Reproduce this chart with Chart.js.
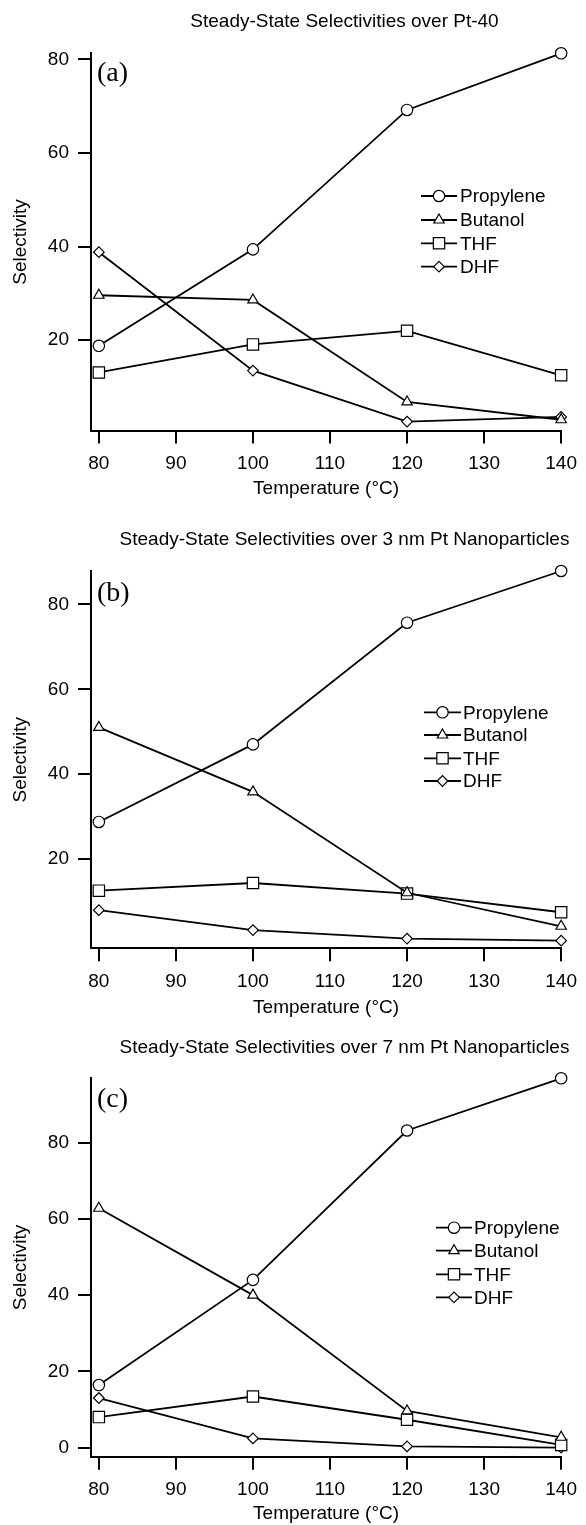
<!DOCTYPE html>
<html>
<head>
<meta charset="utf-8">
<script src="https://cdn.jsdelivr.net/npm/chart.js@4.4.1/dist/chart.umd.min.js"></script>
<style>
  html, body { margin: 0; padding: 0; background: #fff; }
  canvas { display: block; }
</style>
</head>
<body>
<canvas id="chartA" width="586" height="510"></canvas>
<canvas id="chartB" width="586" height="515"></canvas>
<canvas id="chartC" width="586" height="500"></canvas>
<script>
const temperatures = [80, 100, 120, 140];
const xTicks = [80, 90, 100, 110, 120, 130, 140];
const seriesNames = ['Propylene', 'Butanol', 'THF', 'DHF'];

// (a) Pt-40
const propyleneA = [18.8, 39.4, 69.2, 81.3];
const butanolA = [29.6, 28.6, 6.8, 3.0];
const thfA = [13.1, 19.1, 22.0, 12.5];
const dhfA = [38.8, 13.5, 2.6, 3.6];
const yTicksA = [20, 40, 60, 80];

// (b) 3 nm Pt nanoparticles
const propyleneB = [28.7, 47.0, 75.7, 87.9];
const butanolB = [51.0, 35.8, 12.0, 4.1];
const thfB = [12.5, 14.3, 11.8, 7.4];
const dhfB = [7.9, 3.2, 1.2, 0.7];
const yTicksB = [20, 40, 60, 80];

// (c) 7 nm Pt nanoparticles
const propyleneC = [16.4, 44.0, 83.2, 96.9];
const butanolC = [62.8, 40.0, 9.6, 2.7];
const thfC = [8.0, 13.4, 7.3, 0.7];
const dhfC = [13.0, 2.4, 0.3, 0.0];
const yTicksC = [0, 20, 40, 60, 80];

const FONT = "'Liberation Sans', Arial, sans-serif";
const markers = [
  { style: 'circle', radius: 5.7 },
  { style: 'triangle', radius: 6 },
  { style: 'rect', radius: 8 },
  { style: 'rectRot', radius: 5.3 }
];

// panel title, (a)/(b)/(c) tag and the inline legend
const panelText = {
  id: 'panelText',
  afterDraw(chart, args, opts) {
    const ctx = chart.ctx;
    ctx.save();
    ctx.fillStyle = '#000';
    ctx.textBaseline = 'middle';
    ctx.font = '19px ' + FONT;
    ctx.textAlign = 'center';
    ctx.fillText(opts.title, 344.5, opts.titleY);
    ctx.font = "28px 'Liberation Serif', 'Times New Roman', serif";
    ctx.textAlign = 'left';
    ctx.fillText(opts.tag, 97, opts.tagY);

    ctx.font = '19px ' + FONT;
    chart.data.datasets.forEach((ds, i) => {
      const y = opts.legendY[i];
      ctx.strokeStyle = '#000';
      ctx.lineWidth = 1.8;
      ctx.beginPath();
      ctx.moveTo(opts.legendX[0], y);
      ctx.lineTo(opts.legendX[1], y);
      ctx.stroke();
      ctx.fillStyle = '#fff';
      ctx.lineWidth = 1.2;
      Chart.helpers.drawPoint(ctx, {
        pointStyle: ds.pointStyle, radius: ds.pointRadius, rotation: 0, borderWidth: 1.2
      }, (opts.legendX[0] + opts.legendX[1]) / 2, y);
      ctx.fillStyle = '#000';
      ctx.fillText(ds.label, opts.legendX[2], y + 1);
    });
    ctx.restore();
  }
};

function makeChart(id, series, yMin, yMax, yTicks, p) {
  const datasets = series.map((vals, i) => ({
    label: seriesNames[i],
    data: temperatures.map((t, k) => ({ x: t, y: vals[k] })),
    borderColor: '#000',
    backgroundColor: '#fff',
    borderWidth: 1.8,
    pointStyle: markers[i].style,
    pointRadius: markers[i].radius,
    pointBorderWidth: 1.2,
    pointBackgroundColor: '#fff',
    pointBorderColor: '#000',
    tension: 0,
    clip: false
  }));

  return new Chart(document.getElementById(id), {
    type: 'line',
    data: { datasets },
    plugins: [panelText],
    options: {
      responsive: false,
      animation: false,
      layout: { padding: { top: p.top, right: 17.5, left: 0, bottom: 0 } },
      scales: {
        x: {
          type: 'linear',
          min: 78.98,
          max: 140,
          afterBuildTicks: s => { s.ticks = xTicks.map(v => ({ value: v })); },
          afterFit: s => { s.height = p.xHeight; },
          grid: { drawOnChartArea: false, drawTicks: true, tickLength: 13, lineWidth: 2, color: '#000' },
          border: { display: true, color: '#000', width: 2 },
          ticks: { color: '#000', padding: 9, maxRotation: 0, font: { family: FONT, size: 19 } },
          title: {
            display: true, text: 'Temperature (°C)', color: '#000',
            padding: { top: 0, bottom: p.xTitlePad }, font: { family: FONT, size: 19 }
          }
        },
        y: {
          type: 'linear',
          min: yMin,
          max: yMax,
          afterBuildTicks: s => { s.ticks = yTicks.map(v => ({ value: v })); },
          afterFit: s => { s.width = 91; },
          grid: { drawOnChartArea: false, drawTicks: true, tickLength: 13, lineWidth: 2, color: '#000' },
          border: { display: true, color: '#000', width: 2 },
          ticks: { color: '#000', padding: 9, font: { family: FONT, size: 19 } },
          title: {
            display: true, text: 'Selectivity', color: '#000',
            padding: { top: 9, bottom: 0 }, font: { family: FONT, size: 19 }
          }
        }
      },
      plugins: {
        legend: { display: false },
        tooltip: { enabled: false },
        title: { display: false },
        panelText: {
          title: p.title, titleY: p.titleY, tag: p.tag, tagY: p.tagY,
          legendY: p.legendY, legendX: p.legendX
        }
      }
    }
  });
}

makeChart('chartA', [propyleneA, butanolA, thfA, dhfA], 0.7, 81.3, yTicksA, {
  top: 53.3, xHeight: 79.5, xTitlePad: 10.3,
  title: 'Steady-State Selectivities over Pt-40', titleY: 21.7,
  tag: '(a)', tagY: 74,
  legendY: [196, 220, 243.3, 266.7], legendX: [421, 457, 460]
});

makeChart('chartB', [propyleneB, butanolB, thfB, dhfB], -1.1, 87.9, yTicksB, {
  top: 61, xHeight: 76.7, xTitlePad: 5.6,
  title: 'Steady-State Selectivities over 3 nm Pt Nanoparticles', titleY: 30,
  tag: '(b)', tagY: 83.3,
  legendY: [202.3, 225, 248.3, 271], legendX: [424, 461, 463]
});

makeChart('chartC', [propyleneC, butanolC, thfC, dhfC], -2.4, 96.9, yTicksC, {
  top: 53.3, xHeight: 68.3, xTitlePad: 0.3,
  title: 'Steady-State Selectivities over 7 nm Pt Nanoparticles', titleY: 22.3,
  tag: '(c)', tagY: 75,
  legendY: [202.7, 225.7, 249.3, 272.3], legendX: [436, 472, 474]
});
</script>
</body>
</html>
